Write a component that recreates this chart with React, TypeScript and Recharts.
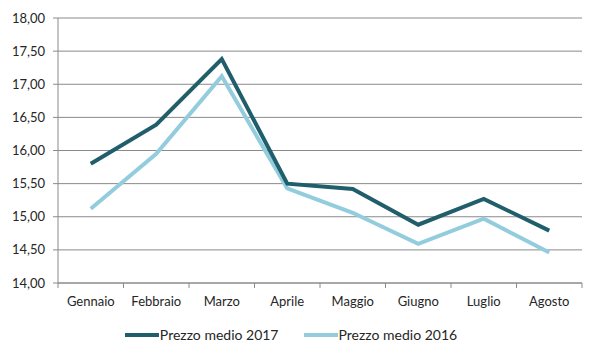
import { CartesianGrid, Legend, Line, LineChart, ReferenceLine, XAxis, YAxis } from 'recharts';

const months = ['Gennaio', 'Febbraio', 'Marzo', 'Aprile', 'Maggio', 'Giugno', 'Luglio', 'Agosto'];
const prezzo2017 = [15.8, 16.39, 17.38, 15.5, 15.42, 14.88, 15.27, 14.79];
const prezzo2016 = [15.12, 15.95, 17.12, 15.43, 15.06, 14.59, 14.97, 14.46];
const yTicks = [14, 14.5, 15, 15.5, 16, 16.5, 17, 17.5, 18];
const labelTicks = months.map((_, i) => i + 0.5);
const boundaries = [0, 1, 2, 3, 4, 5, 6, 7, 8];

const data = months.map((name, i) => ({
    name,
    idx: i + 0.5,
    p2017: prezzo2017[i],
    p2016: prezzo2016[i],
}));

const DARK = '#215e6b';
const LIGHT = '#93cddd';
const GRID = '#8a8a8a';
const TEXT = '#262626';
const FONT = 'Lato, "Open Sans", sans-serif';

const legendItems = [
    { label: 'Prezzo medio 2017', color: DARK },
    { label: 'Prezzo medio 2016', color: LIGHT },
];

function ChartLegend() {
    return (
        <div style={{ display: 'flex', justifyContent: 'center', gap: 25, paddingTop: 8, fontFamily: FONT, fontSize: 14, color: TEXT }}>
            {legendItems.map((item) => (
                <div key={item.label} style={{ display: 'flex', alignItems: 'center' }}>
                    <span style={{ display: 'inline-block', width: 34, height: 4, background: item.color, marginRight: 1 }} />
                    {item.label}
                </div>
            ))}
        </div>
    );
}

export default function App() {
    return (
        <div style={{ margin: -8, width: 600, height: 360, background: '#fff' }}>
            <LineChart width={600} height={360} data={data} margin={{ top: 18, right: 18, bottom: 2, left: 0 }}>
                <CartesianGrid vertical={false} stroke={GRID} strokeWidth={1} />
                <XAxis
                    type="number"
                    dataKey="idx"
                    domain={[0, 8]}
                    ticks={labelTicks}
                    interval={0}
                    height={35}
                    stroke={GRID}
                    tickLine={false}
                    tickMargin={8}
                    tick={{ fill: TEXT, fontSize: 13, fontFamily: FONT }}
                    tickFormatter={(v: number) => months[Math.floor(v)]}
                />
                <YAxis
                    domain={[14, 18]}
                    ticks={yTicks}
                    width={58}
                    stroke={GRID}
                    tickSize={5}
                    tickMargin={8}
                    tick={{ fill: TEXT, fontSize: 13, fontFamily: FONT }}
                    tickFormatter={(v: number) => v.toFixed(2).replace('.', ',')}
                />
                {/* Excel-style tick marks between categories */}
                {boundaries.map((b) => (
                    <ReferenceLine
                        key={b}
                        segment={[{ x: b, y: 14 }, { x: b, y: 13.925 }]}
                        stroke={GRID}
                        ifOverflow="visible"
                    />
                ))}
                <Legend verticalAlign="bottom" height={40} content={() => <ChartLegend />} />
                <Line dataKey="p2016" stroke={LIGHT} strokeWidth={4} dot={false} isAnimationActive={false} />
                <Line dataKey="p2017" stroke={DARK} strokeWidth={4} dot={false} isAnimationActive={false} />
            </LineChart>
        </div>
    );
}
